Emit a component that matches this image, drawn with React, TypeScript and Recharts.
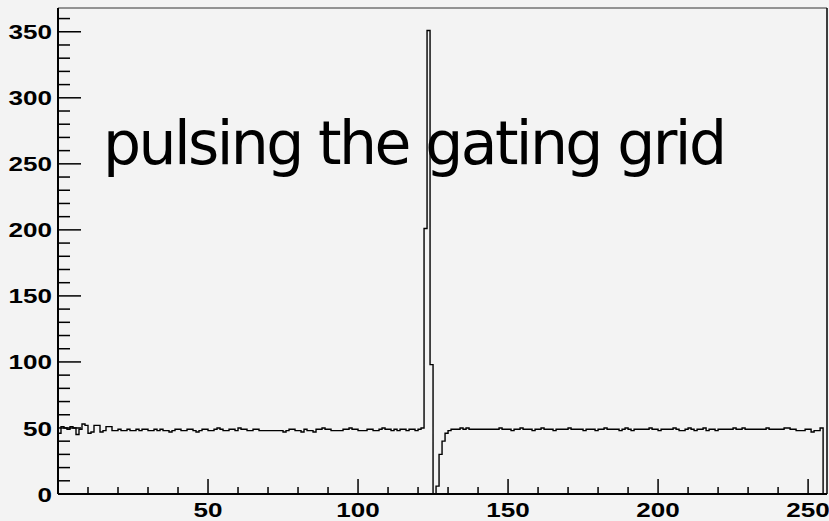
import React from 'react';
import { LineChart, Line, XAxis, YAxis } from 'recharts';

// counts per bin, bins of width 1 starting at 0
const binCounts = [
  46, 51, 50, 49, 51, 50, 45, 49, 53, 52, 46, 47, 52, 52, 47, 48,
  51, 51, 48, 48, 49, 48, 48, 49, 48, 48, 49, 48, 49, 49, 48, 48,
  49, 48, 49, 48, 48, 47, 48, 49, 49, 48, 48, 49, 49, 48, 47, 48,
  49, 49, 48, 48, 49, 50, 49, 48, 48, 49, 49, 48, 50, 49, 49, 48,
  48, 49, 49, 48, 48, 48, 48, 48, 48, 48, 48, 47, 48, 49, 49, 48,
  48, 47, 49, 48, 48, 47, 49, 49, 50, 49, 49, 48, 48, 48, 48, 49,
  49, 50, 49, 49, 48, 48, 48, 49, 49, 48, 48, 49, 50, 49, 49, 48,
  49, 48, 49, 49, 48, 49, 49, 48, 49, 50, 201, 351, 98, 0, 6, 30,
  40, 46, 48, 49, 49, 49, 50, 49, 50, 49, 49, 49, 49, 49, 49, 49,
  49, 49, 49, 50, 49, 49, 49, 48, 49, 49, 50, 49, 49, 49, 48, 49,
  49, 50, 49, 49, 49, 48, 49, 49, 49, 49, 50, 49, 49, 49, 49, 48,
  49, 49, 49, 48, 49, 49, 50, 49, 49, 49, 49, 48, 49, 50, 49, 48,
  49, 49, 49, 49, 49, 50, 49, 49, 48, 49, 49, 49, 49, 50, 49, 48,
  48, 49, 50, 49, 48, 49, 49, 50, 48, 49, 49, 48, 49, 49, 49, 49,
  49, 50, 49, 49, 50, 49, 49, 49, 49, 49, 49, 49, 50, 49, 49, 49,
  49, 49, 50, 50, 49, 49, 48, 48, 48, 49, 49, 47, 48, 48, 50, 0,
];

const xTicks = [10, 20, 30, 40, 50, 60, 70, 80, 90, 100, 110, 120, 130, 140, 150, 160, 170, 180, 190, 200, 210, 220, 230, 240, 250];
const yTicks = [0, 10, 20, 30, 40, 50, 60, 70, 80, 90, 100, 110, 120, 130, 140, 150, 160, 170, 180, 190, 200, 210, 220, 230, 240, 250, 260, 270, 280, 290, 300, 310, 320, 330, 340, 350, 360];
const xDomain = [0, 256.3];
const yDomain = [0, 368];
const title = 'pulsing the gating grid';

// stepAfter needs one extra point at the right edge of the last bin
const data = [...binCounts, binCounts[binCounts.length - 1]].map((count, i) => ({ bin: i, count }));

const labelFont = { fontFamily: '"Liberation Sans", Arial, sans-serif', fontWeight: 700, fontSize: 21, fill: '#000' };
const DIGIT_W = 14.5;

const XTick = ({ x, y, payload }: any) => {
  const major = payload.value % 50 === 0;
  const txt = String(payload.value);
  return (
    <g>
      <line x1={x} x2={x} y1={y} y2={y - (major ? 15 : 7)} stroke="#000" strokeWidth={1.5} />
      {major && (
        <text x={x} y={y + 23} textAnchor="middle" textLength={txt.length * DIGIT_W} lengthAdjust="spacingAndGlyphs" {...labelFont}>
          {txt}
        </text>
      )}
    </g>
  );
};

const YTick = ({ x, y, payload }: any) => {
  const major = payload.value % 50 === 0;
  const txt = String(payload.value);
  return (
    <g>
      <line x1={x} x2={x + (major ? 23 : 12)} y1={y} y2={y} stroke="#000" strokeWidth={1.5} />
      {major && (
        <text x={x - 6} y={y} dy="0.36em" textAnchor="end" textLength={txt.length * DIGIT_W} lengthAdjust="spacingAndGlyphs" {...labelFont}>
          {txt}
        </text>
      )}
    </g>
  );
};

export default function App() {
  return (
    <div style={{ position: 'absolute', left: 0, top: 0, width: 829, height: 521, background: '#f3f3f3' }}>
      <LineChart width={829} height={521} data={data} margin={{ top: 7, right: 1, bottom: 26, left: 57 }}>
        <XAxis
          dataKey="bin"
          type="number"
          domain={xDomain}
          allowDataOverflow
          ticks={xTicks}
          interval={0}
          tickSize={0}
          tickMargin={0}
          tick={<XTick />}
          height={1}
          axisLine={{ stroke: '#000', strokeWidth: 2 }}
        />
        <XAxis xAxisId="top" orientation="top" type="number" domain={xDomain} tick={false} tickLine={false} height={1} axisLine={{ stroke: '#333', strokeWidth: 1 }} />
        <YAxis
          type="number"
          domain={yDomain}
          allowDataOverflow
          ticks={yTicks}
          interval={0}
          tickSize={0}
          tickMargin={0}
          tick={<YTick />}
          width={1}
          axisLine={{ stroke: '#000', strokeWidth: 2 }}
        />
        <YAxis yAxisId="right" orientation="right" type="number" domain={yDomain} tick={false} tickLine={false} width={1} axisLine={{ stroke: '#000', strokeWidth: 1.5 }} />
        <Line dataKey="count" type="stepAfter" stroke="#000" strokeWidth={1.4} dot={false} isAnimationActive={false} />
      </LineChart>
      <svg width={829} height={521} style={{ position: 'absolute', left: 0, top: 0, pointerEvents: 'none' }}>
        <text x={103} y={164} textLength={624} lengthAdjust="spacing" fontFamily='"DejaVu Sans", sans-serif' fontSize={60} fill="#000">
          {title}
        </text>
      </svg>
    </div>
  );
}
